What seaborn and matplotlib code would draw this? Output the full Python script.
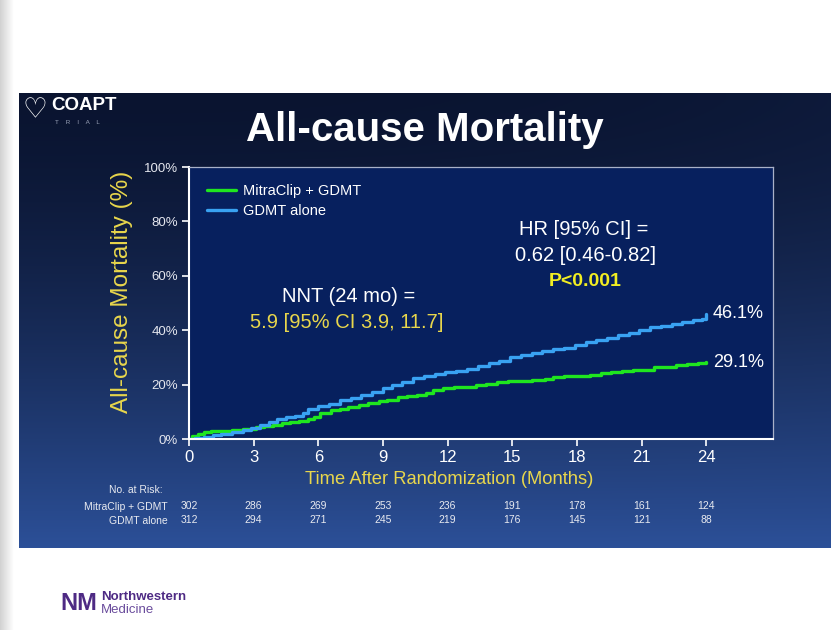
import numpy as np
import pandas as pd
import matplotlib
matplotlib.use("Agg")
import matplotlib.pyplot as plt
import seaborn as sns

# Kaplan-Meier style cumulative mortality
mitra_t = [0, 0.15, 0.4, 0.7, 1.0, 1.5, 2.0, 2.5, 2.8, 3.1, 3.5, 3.9, 4.3, 4.7, 5.1, 5.5,
           5.8, 6.1, 6.6, 7.0, 7.4, 7.9, 8.3, 8.8, 9.2, 9.7, 10.1, 10.6, 11.0, 11.3, 11.8,
           12.3, 12.8, 13.3, 13.8, 14.3, 14.8, 15.3, 15.9, 16.5, 16.9, 17.4, 18.0, 18.6,
           19.1, 19.6, 20.1, 20.6, 21.1, 21.6, 22.1, 22.6, 23.1, 23.6, 24.0]
mitra_v = [0, 1.0, 1.8, 2.4, 2.8, 3.1, 3.3, 3.5, 3.6, 4.4, 4.9, 5.3, 5.8, 6.2, 6.8, 7.3,
           8.2, 9.6, 10.5, 11.2, 11.9, 12.4, 13.1, 13.8, 14.5, 15.3, 15.8, 16.2, 16.8, 18.0,
           18.6, 19.0, 19.3, 19.8, 20.2, 20.8, 21.2, 21.5, 21.8, 22.0, 22.8, 23.1, 23.3,
           23.6, 24.2, 24.6, 25.0, 25.3, 25.5, 26.3, 26.6, 27.1, 27.5, 28.0, 28.4]

gdmt_t = [0, 0.3, 0.7, 1.1, 1.5, 2.0, 2.5, 2.9, 3.3, 3.7, 4.1, 4.5, 4.9, 5.3, 5.5, 6.0,
          6.5, 7.0, 7.5, 8.0, 8.5, 9.0, 9.4, 9.9, 10.4, 10.9, 11.4, 11.9, 12.4, 12.9, 13.4,
          13.9, 14.4, 14.9, 15.4, 15.9, 16.4, 16.9, 17.4, 17.9, 18.4, 18.9, 19.4, 19.9,
          20.4, 20.9, 21.4, 21.9, 22.4, 22.9, 23.4, 23.8, 24.0]
gdmt_v = [0, 0.3, 0.9, 1.5, 2.0, 2.6, 3.3, 4.2, 5.2, 6.3, 7.2, 8.1, 8.6, 9.4, 11.2, 12.0,
          13.0, 14.3, 15.2, 16.0, 17.2, 18.8, 19.8, 21.0, 22.3, 23.0, 23.8, 24.6, 25.0,
          25.8, 27.0, 27.8, 28.8, 30.0, 30.8, 31.6, 32.4, 33.0, 33.6, 34.6, 35.8, 36.4,
          37.3, 38.2, 38.8, 40.2, 41.0, 41.5, 42.2, 43.0, 43.6, 44.3, 45.8]

risk_months = [0, 3, 6, 9, 12, 15, 18, 21, 24]
risk_mitra = [302, 286, 269, 253, 236, 191, 178, 161, 124]
risk_gdmt = [312, 294, 271, 245, 219, 176, 145, 121, 88]

y_ticks = [0, 20, 40, 60, 80, 100]
y_labels = ["0%", "20%", "40%", "60%", "80%", "100%"]

df = pd.concat([
    pd.DataFrame({"month": mitra_t, "mort": mitra_v, "arm": "MitraClip + GDMT"}),
    pd.DataFrame({"month": gdmt_t, "mort": gdmt_v, "arm": "GDMT alone"}),
])

sns.set_theme(style="white")
plt.rcParams["font.family"] = ["Liberation Sans", "DejaVu Sans"]

GREEN = "#1fe61f"
BLUE = "#39a2f2"
GOLD = "#e8d64c"
W = 831
H = 630

fig = plt.figure(figsize=(8.31, 6.3), dpi=100, facecolor="white")

# left shadow of the slide frame
sh = fig.add_axes([0, 0, 14 / W, 1])
sh.imshow(np.linspace(0.82, 1.0, 64)[None, :], cmap="gray", vmin=0, vmax=1,
          aspect="auto", extent=[0, 1, 0, 1])
sh.axis("off")

# slide background gradient
bg = fig.add_axes([19 / W, 82 / H, 1 - 19 / W, (548 - 93) / H])
yy = np.linspace(0, 1, 200)[:, None]
xx = np.linspace(0, 1, 200)[None, :]
t = np.clip(yy ** 1.5 + 0.10 * (1 - yy) * xx ** 3, 0, 1)
top = np.array([10, 20, 48]) / 255
bot = np.array([44, 80, 152]) / 255
img = top + (bot - top) * t[..., None]
bg.imshow(img, aspect="auto", extent=[0, 1, 0, 1])
bg.axis("off")

ax = fig.add_axes([189 / W, 1 - 439 / H, (773 - 189) / W, (439 - 167) / H])
ax.set_facecolor("#07205e")

sns.lineplot(data=df, x="month", y="mort", hue="arm",
             palette={"MitraClip + GDMT": GREEN, "GDMT alone": BLUE},
             estimator=None, sort=False, drawstyle="steps-post",
             linewidth=2.4, ax=ax)

ax.set_xlim(0, 27.1)
ax.set_ylim(0, 100)
ax.set_xticks(risk_months)
ax.set_xticklabels([str(m) for m in risk_months], color="white", fontsize=12)
ax.set_yticks(y_ticks)
ax.set_yticklabels(y_labels, color="#e4e6ee", fontsize=9.5)
ax.tick_params(axis="both", direction="out", length=5, width=1.2, color="white",
               bottom=True, left=True, pad=3)
ax.grid(False)
for s in ["left", "bottom"]:
    ax.spines[s].set_color("white")
    ax.spines[s].set_linewidth(1.5)
for s in ["top", "right"]:
    ax.spines[s].set_color("#a9b1c8")
    ax.spines[s].set_linewidth(0.9)

ax.set_xlabel("Time After Randomization (Months)", color=GOLD, fontsize=13.2)
ax.xaxis.set_label_coords(0.445, -0.118)
ax.set_ylabel("All-cause Mortality (%)", color=GOLD, fontsize=17.5)
ax.yaxis.set_label_coords(-0.096, 0.54)

leg = ax.legend(loc="upper left", frameon=False, fontsize=10.5, handlelength=2.0,
                handletextpad=0.5, borderaxespad=0.0, labelspacing=0.45,
                bbox_to_anchor=(0.02, 0.96))
for txt in leg.get_texts():
    txt.set_color("white")

# annotations inside the plot
ax.text(7.4, 52.5, "NNT (24 mo) =", color="white", fontsize=14.5, ha="center", va="center")
ax.text(7.3, 42.8, "5.9 [95% CI 3.9, 11.7]", color=GOLD, fontsize=14.5, ha="center",
        va="center")
ax.text(18.3, 77.2, "HR [95% CI] =", color="white", fontsize=14.5, ha="center", va="center")
ax.text(18.4, 67.5, "0.62 [0.46-0.82]", color="white", fontsize=14.5, ha="center",
        va="center")
ax.text(18.4, 58, "P<0.001", color="#f2ee22", fontsize=14, fontweight="bold",
        ha="center", va="center")
ax.text(24.3, 46.1, "46.1%", color="white", fontsize=13, ha="left", va="center")
ax.text(24.3, 28.2, "29.1%", color="white", fontsize=13, ha="left", va="center")

# title and logos
fig.text(425 / W, 1 - 130 / H, "All-cause Mortality", color="white", fontsize=29,
         fontweight="bold", ha="center", va="center")
fig.text(35 / W, 1 - 110 / H, "\u2661", color="white", fontsize=20, ha="center",
         va="center", family=["DejaVu Sans"])
fig.text(51 / W, 1 - 106 / H, "COAPT", color="white", fontsize=13.5, fontweight="bold",
         ha="left", va="center")
fig.text(55 / W, 1 - 123 / H, "T    R    I    A    L", color="#9aa3b8", fontsize=4.5,
         ha="left", va="center")

# number at risk table
fig.text(163 / W, 1 - 490 / H, "No. at Risk:", color="#e8eaf0", fontsize=7.5,
         ha="right", va="center")
fig.text(168 / W, 1 - 507 / H, "MitraClip + GDMT", color="#e8eaf0", fontsize=7.5,
         ha="right", va="center")
fig.text(168 / W, 1 - 521 / H, "GDMT alone", color="#e8eaf0", fontsize=7.5,
         ha="right", va="center")
for m, a, b in zip(risk_months, risk_mitra, risk_gdmt):
    ax.text(m, -24.5, str(a), color="#e8eaf0", fontsize=7.5, ha="center", va="center",
            clip_on=False)
    ax.text(m, -29.6, str(b), color="#e8eaf0", fontsize=7.5, ha="center", va="center",
            clip_on=False)

# Northwestern Medicine logo
fig.text(60 / W, 1 - 603 / H, "NM", color="#4e2a84", fontsize=17, fontweight="bold",
         ha="left", va="center")
fig.text(101 / W, 1 - 597 / H, "Northwestern", color="#4e2a84", fontsize=9.5,
         fontweight="bold", ha="left", va="center")
fig.text(101 / W, 1 - 610 / H, "Medicine", color="#6a4c9c", fontsize=9.5,
         ha="left", va="center")

fig.savefig("out.png", dpi=100, facecolor="white")
